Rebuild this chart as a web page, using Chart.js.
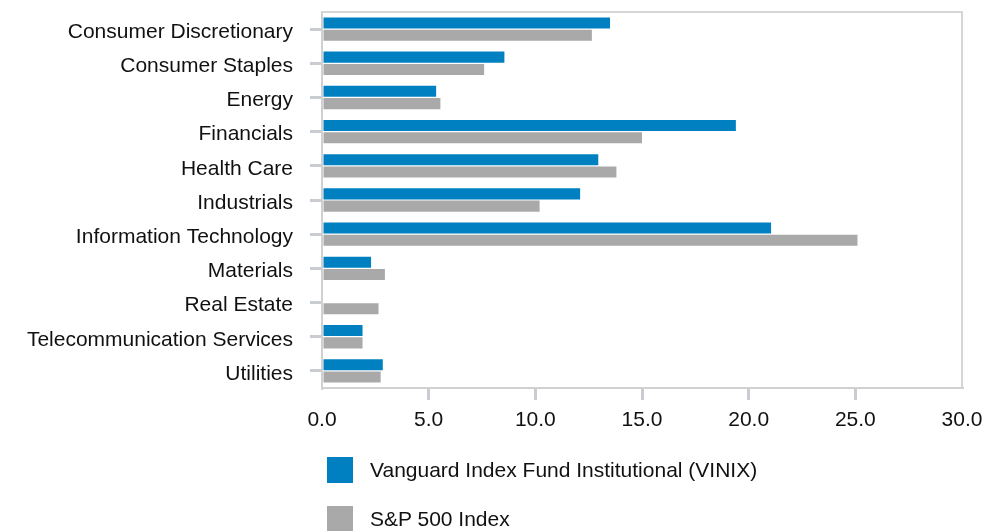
<!DOCTYPE html>
<html>
<head>
<meta charset="utf-8">
<script src="https://cdn.jsdelivr.net/npm/chart.js@4.4.1/dist/chart.umd.min.js"></script>
<style>
    body { margin: 0; background: #fff; }
    #wrap { position: relative; width: 986px; height: 531px; overflow: hidden; }
    #legend { position: absolute; left: 327px; top: 457px; font-family: "Liberation Sans", Arial, sans-serif; font-size: 21px; color: #111; }
    .item { display: flex; align-items: center; height: 26px; margin-bottom: 23px; }
    .box { width: 26px; height: 26px; margin-right: 17px; }
</style>
</head>
<body>
<div id="wrap">
    <canvas id="myChart" width="986" height="531"></canvas>
    <div id="legend"></div>
</div>
<script>

var sectors = ['Consumer Discretionary', 'Consumer Staples', 'Energy', 'Financials', 'Health Care',
    'Industrials', 'Information Technology', 'Materials', 'Real Estate',
    'Telecommunication Services', 'Utilities'];

var fundName = 'Vanguard Index Fund Institutional (VINIX)';
var fundValues = [13.5, 8.55, 5.35, 19.4, 12.95, 12.1, 21.05, 2.3, 0, 1.9, 2.85];

var indexName = 'S&P 500 Index';
var indexValues = [12.65, 7.6, 5.55, 15.0, 13.8, 10.2, 25.1, 2.95, 2.65, 1.9, 2.75];

var xTicks = [0, 5, 10, 15, 20, 25, 30];

var tickColor = '#c9cdd1';

// top + right border of plot box
var boxBorder = {
    id: 'boxBorder',
    afterDraw: function (chart) {
        var a = chart.chartArea;
        var c = chart.ctx;
        c.save();
        c.strokeStyle = '#d6d6d6';
        c.lineWidth = 2;
        c.beginPath();
        c.moveTo(a.left, a.top);
        c.lineTo(a.right, a.top);
        c.lineTo(a.right, a.bottom);
        c.stroke();
        c.restore();
    }
};

var chartArea = document.getElementById('myChart').getContext('2d');

var myChart = new Chart(chartArea, {
    type: 'bar',
    data: {
        labels: sectors,
        datasets: [{
            label: fundName,
            data: fundValues,
            backgroundColor: '#0080c0',
            barPercentage: 0.9,
            categoryPercentage: 0.72
        }, {
            label: indexName,
            data: indexValues,
            backgroundColor: '#a9a9a9',
            barPercentage: 0.9,
            categoryPercentage: 0.72
        }]
    },
    options: {
        indexAxis: 'y',
        responsive: false,
        animation: false,
        layout: {
            padding: { top: 12, right: 24, left: 0, bottom: 0 }
        },
        plugins: {
            legend: { display: false },
            tooltip: { enabled: false }
        },
        scales: {
            y: {
                afterFit: function (scale) {
                    scale.width = 322;
                    scale.paddingTop = 0;
                    scale.paddingBottom = 0;
                },
                grid: {
                    offset: false,
                    drawOnChartArea: false,
                    tickLength: 12,
                    lineWidth: 3,
                    color: tickColor
                },
                border: { display: true, color: '#d0d0d0', width: 2 },
                ticks: {
                    padding: 17,
                    labelOffset: 3,
                    color: '#111',
                    font: { family: '"Liberation Sans", Arial, sans-serif', size: 21 }
                }
            },
            x: {
                min: 0,
                max: 30,
                afterFit: function (scale) {
                    scale.height = 143;
                    scale.paddingLeft = 0;
                    scale.paddingRight = 0;
                },
                afterBuildTicks: function (scale) {
                    scale.ticks = xTicks.map(function (v) { return { value: v }; });
                },
                grid: {
                    drawOnChartArea: false,
                    tickLength: 12,
                    lineWidth: 3,
                    color: function (ctx) {
                        var v = ctx.tick ? ctx.tick.value : 0;
                        return (v === 0 || v === 30) ? 'rgba(0,0,0,0)' : tickColor;
                    }
                },
                border: { display: true, color: '#d0d0d0', width: 2 },
                ticks: {
                    padding: 8,
                    color: '#111',
                    maxRotation: 0,
                    font: { family: '"Liberation Sans", Arial, sans-serif', size: 21 },
                    callback: function (v) { return Number(v).toFixed(1); }
                }
            }
        }
    },
    plugins: [boxBorder]
});

// legend, one item per row
myChart.data.datasets.forEach(function (ds) {
    var item = document.createElement('div');
    item.className = 'item';
    var box = document.createElement('div');
    box.className = 'box';
    box.style.background = ds.backgroundColor;
    var txt = document.createElement('span');
    txt.textContent = ds.label;
    item.appendChild(box);
    item.appendChild(txt);
    document.getElementById('legend').appendChild(item);
});

</script>
</body>
</html>
